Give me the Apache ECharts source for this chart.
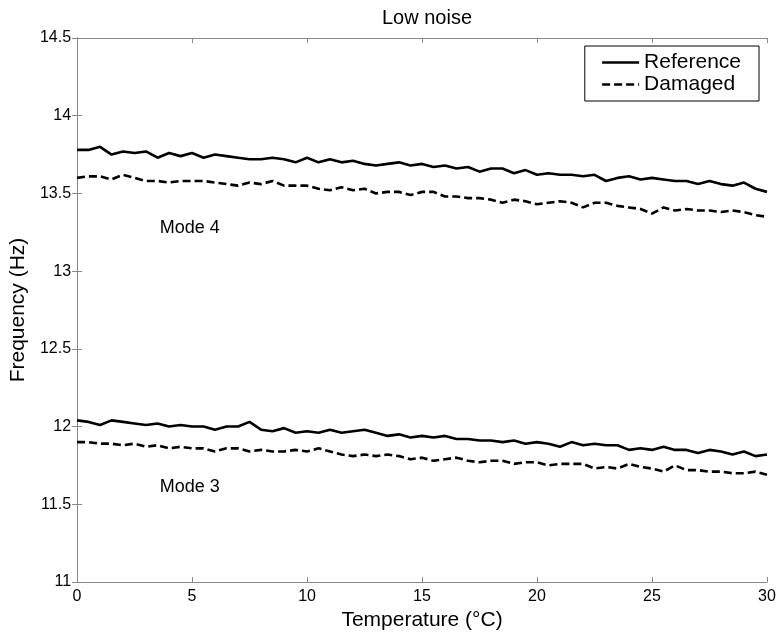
<!DOCTYPE html>
<html>
<head>
<meta charset="utf-8">
<script src="https://cdn.jsdelivr.net/npm/echarts@6/dist/echarts.min.js"></script>
<style>html,body{margin:0;padding:0;background:#fff}#c{width:779px;height:637px}</style>
</head>
<body>
<div id="c"></div>
<script>
const temps = [0,0.5,1,1.5,2,2.5,3,3.5,4,4.5,5,5.5,6,6.5,7,7.5,8,8.5,9,9.5,10,10.5,11,11.5,12,12.5,13,13.5,14,14.5,15,15.5,16,16.5,17,17.5,18,18.5,19,19.5,20,20.5,21,21.5,22,22.5,23,23.5,24,24.5,25,25.5,26,26.5,27,27.5,28,28.5,29,29.5,30];
const mode4Reference = [13.78,13.78,13.80,13.75,13.77,13.76,13.77,13.73,13.76,13.74,13.76,13.73,13.75,13.74,13.73,13.72,13.72,13.73,13.72,13.70,13.73,13.70,13.72,13.70,13.71,13.69,13.68,13.69,13.70,13.68,13.69,13.67,13.68,13.66,13.67,13.64,13.66,13.66,13.63,13.65,13.62,13.63,13.62,13.62,13.61,13.62,13.58,13.60,13.61,13.59,13.60,13.59,13.58,13.58,13.56,13.58,13.56,13.55,13.57,13.53,13.51];
const mode4Damaged = [13.60,13.61,13.61,13.59,13.62,13.60,13.58,13.58,13.57,13.58,13.58,13.58,13.57,13.56,13.55,13.57,13.56,13.58,13.55,13.55,13.55,13.53,13.52,13.54,13.52,13.53,13.50,13.51,13.51,13.49,13.51,13.51,13.48,13.48,13.47,13.47,13.46,13.44,13.46,13.45,13.43,13.44,13.45,13.44,13.41,13.44,13.44,13.42,13.41,13.40,13.37,13.41,13.39,13.40,13.39,13.39,13.38,13.39,13.38,13.36,13.35];
const mode3Reference = [12.04,12.03,12.01,12.04,12.03,12.02,12.01,12.02,12.00,12.01,12.00,12.00,11.98,12.00,12.00,12.03,11.98,11.97,11.99,11.96,11.97,11.96,11.98,11.96,11.97,11.98,11.96,11.94,11.95,11.93,11.94,11.93,11.94,11.92,11.92,11.91,11.91,11.90,11.91,11.89,11.90,11.89,11.87,11.90,11.88,11.89,11.88,11.88,11.85,11.86,11.85,11.87,11.85,11.85,11.83,11.85,11.84,11.82,11.84,11.81,11.82];
const mode3Damaged = [11.90,11.90,11.89,11.89,11.88,11.89,11.87,11.88,11.86,11.87,11.86,11.86,11.84,11.86,11.86,11.84,11.85,11.84,11.84,11.85,11.84,11.86,11.84,11.82,11.81,11.82,11.81,11.82,11.81,11.79,11.80,11.78,11.79,11.80,11.78,11.77,11.78,11.78,11.76,11.77,11.77,11.75,11.76,11.76,11.76,11.73,11.74,11.73,11.76,11.74,11.73,11.71,11.75,11.72,11.72,11.71,11.71,11.70,11.70,11.71,11.69];
const modeLabels = [{text:'Mode 4', t:4.9, f:13.28},{text:'Mode 3', t:4.9, f:11.61}];

const FONT = 'Liberation Sans, Arial, sans-serif';
const pair = (ys) => temps.map((t,i)=>[t, ys[i]]);
const lineSeries = (name, ys, dashed) => ({
  name, type:'line', data: pair(ys), symbol:'none', showSymbol:false,
  lineStyle:{color:'#000', width:2.6, type: dashed ? [8,4] : 'solid'},
  itemStyle:{color:'#000'}, silent:true, animation:false, z:3
});
const axisCommon = {
  axisLine:{show:true, lineStyle:{color:'#888', width:1}},
  axisTick:{show:true, inside:true, length:5, lineStyle:{color:'#888'}},
  splitLine:{show:false}
};
const chart = echarts.init(document.getElementById('c'), null, {renderer:'canvas'});
chart.setOption({
  animation:false,
  backgroundColor:'#fff',
  title:{text:'Low noise', left:422, top:3, textAlign:'center',
    textStyle:{fontFamily:FONT, fontSize:20, fontWeight:'normal', color:'#000'}},
  legend:{
    data:['Reference','Damaged'], orient:'vertical', right:20, top:46,
    itemWidth:37, itemHeight:14, itemGap:1,
    itemStyle:{opacity:0},
    lineStyle:{width:2.6},
    backgroundColor:'#fff', borderColor:'#000', borderWidth:1,
    padding:[6,18,6,16],
    textStyle:{fontFamily:FONT, fontSize:21, color:'#000'}
  },
  grid:{left:76, right:12, top:38, bottom:55, containLabel:false},
  xAxis:[
    Object.assign({type:'value', min:0, max:30, interval:5,
      name:'Temperature (°C)', nameLocation:'middle', nameGap:27,
      nameTextStyle:{fontFamily:FONT, fontSize:21, color:'#000'},
      axisLabel:{fontFamily:FONT, fontSize:16, color:'#000', margin:7}}, axisCommon),
    Object.assign({type:'value', min:0, max:30, interval:5, position:'top',
      axisLabel:{show:false}}, axisCommon)
  ],
  yAxis:[
    Object.assign({type:'value', min:11, max:14.5, interval:0.5,
      name:'Frequency (Hz)', nameLocation:'middle', nameGap:44,
      nameTextStyle:{fontFamily:FONT, fontSize:21, color:'#000'},
      axisLabel:{fontFamily:FONT, fontSize:16, color:'#000', margin:6}}, axisCommon),
    Object.assign({type:'value', min:11, max:14.5, interval:0.5, position:'right',
      axisLabel:{show:false}}, axisCommon)
  ],
  series:[
    lineSeries('Reference', mode4Reference, false),
    lineSeries('Damaged', mode4Damaged, true),
    lineSeries('Reference', mode3Reference, false),
    lineSeries('Damaged', mode3Damaged, true),
    {type:'scatter', symbolSize:0, silent:true, itemStyle:{opacity:1, color:'#000'},
      data: modeLabels.map(m=>({value:[m.t,m.f], name:m.text})),
      label:{show:true, position:'inside', formatter:p=>p.name, fontFamily:FONT, fontSize:18, color:'#000', opacity:1}}
  ]
});
</script>
</body>
</html>
